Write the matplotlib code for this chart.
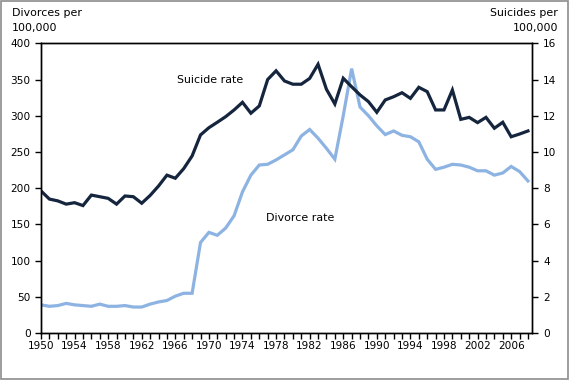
import numpy as np
import matplotlib
matplotlib.use("Agg")
import matplotlib.pyplot as plt
from matplotlib.patches import Rectangle

# data
years = list(range(1950, 2009))
divorce_rate = [39, 37, 38, 41, 39, 38, 37, 40, 37, 37,
                38, 36, 36, 40, 43, 45, 51, 55, 55, 125,
                139, 135, 145, 162, 195, 218, 232, 233, 239, 246,
                253, 272, 281, 269, 255, 240, 300, 365, 312, 300,
                286, 274, 279, 273, 271, 264, 240, 226, 229, 233,
                232, 229, 224, 224, 218, 221, 230, 223, 210]
suicide_rate = [7.85, 7.4, 7.3, 7.12, 7.2, 7.04, 7.62, 7.53, 7.44, 7.12,
                7.57, 7.53, 7.17, 7.6, 8.12, 8.72, 8.55, 9.08, 9.78, 10.94,
                11.34, 11.64, 11.95, 12.32, 12.74, 12.14, 12.54, 14.0, 14.48, 13.92,
                13.74, 13.74, 14.06, 14.84, 13.46, 12.65, 14.07, 13.6, 13.15, 12.78,
                12.19, 12.87, 13.05, 13.27, 12.96, 13.57, 13.33, 12.32, 12.32, 13.42,
                11.8, 11.91, 11.62, 11.91, 11.31, 11.64, 10.84, 10.99, 11.16]

light = "#8db3e2"
dark = "#15253e"
fs = 7.6

fig = plt.figure(figsize=(5.7, 3.81), dpi=100)
ax = fig.add_axes([0.0719, 0.1257, 0.8614, 0.7607])
ax2 = ax.twinx()

ax.plot(years, divorce_rate, color=light, lw=2.3, solid_joinstyle="miter")
ax2.plot(years, suicide_rate, color=dark, lw=2.3, solid_joinstyle="miter")

ax.set_xlim(1950, 2008.48)
ax.set_ylim(0, 400)
ax2.set_ylim(0, 16)
ax.set_yticks(range(0, 401, 50))
ax2.set_yticks(range(0, 17, 2))
ax.set_xticks(years, labels=[str(y) if (y - 1950) % 4 == 0 else "" for y in years])

for a in (ax, ax2):
    for s in a.spines.values():
        s.set_linewidth(1)
        s.set_color("black")
ax.tick_params(axis="x", length=4, width=1, pad=2, labelsize=fs)
ax.tick_params(axis="y", length=4, width=1, pad=3.5, labelsize=fs)
ax2.tick_params(axis="y", length=4, width=1, pad=4, labelsize=fs)

ax.text(1966.2, 350, "Suicide rate", fontsize=7.9, va="center", ha="left")
ax.text(1976.8, 159, "Divorce rate", fontsize=7.9, va="center", ha="left")

fig.text(12 / 570, 1 - 8 / 381, "Divorces per\n100,000", fontsize=7.9,
         ha="left", va="top", linespacing=1.6)
fig.text(558 / 570, 1 - 8 / 381, "Suicides per\n100,000", fontsize=7.9,
         ha="right", va="top", linespacing=1.6, multialignment="right")

fig.patches.append(Rectangle((1 / 570, 2 / 381), 567 / 570, 378 / 381,
                             transform=fig.transFigure, fill=False,
                             edgecolor="#8c8c8c", lw=1.2))

fig.savefig("out.png", dpi=100)
